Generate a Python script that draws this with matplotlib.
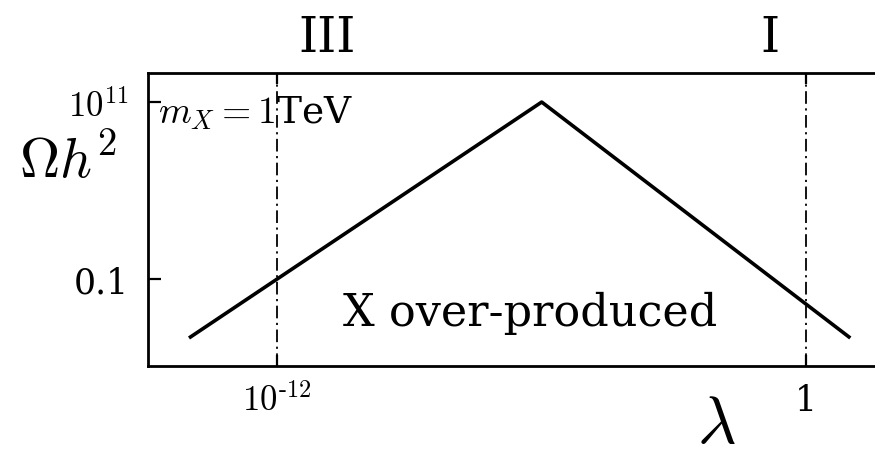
import numpy as np
import matplotlib
matplotlib.use("Agg")
import matplotlib.pyplot as plt

plt.rcParams['font.family'] = ['DejaVu Serif']
plt.rcParams['mathtext.fontset'] = 'cm'

# relic abundance vs coupling, broken power law (log-log)
lam = [1e-14, 1e-6, 1e1]
omega_h2 = [1e-5, 1e11, 1e-5]

# region boundaries
lam_bounds = [1e-12, 1.0]
region_names = ["III", "I"]

xticks = [1e-12, 1.0]
xticklabels = [r"$10^{\text{-}12}$", "1"]
yticks = [0.1, 1e11]
yticklabels = ["0.1", r"$10^{11}$"]

fig = plt.figure(figsize=(8.75, 4.6), dpi=100)
ax = fig.add_axes([148/875, 93/460, 1 - 148/875, 293/460])

ax.plot(lam, omega_h2, color="black", lw=2.6, solid_capstyle="butt")
for xb in lam_bounds:
    ax.axvline(xb, color="black", lw=1.3, linestyle=(0, (7, 2.5, 1.2, 2.5)))

ax.set_xscale("log")
ax.set_yscale("log")
ax.set_xlim(10**-14.93, 10**1.56)
ax.set_ylim(10**-6.9, 10**12.97)

ax.set_xticks(xticks)
ax.set_xticklabels(xticklabels)
ax.set_yticks(yticks)
ax.set_yticklabels(yticklabels)
ax.minorticks_off()
ax.tick_params(axis="x", direction="in", length=8, width=1.6, top=True,
               labelsize=25, pad=12)
ax.tick_params(axis="y", direction="in", length=9, width=1.6, labelsize=25, pad=14)

ax.spines["right"].set_visible(False)
for s in ["left", "top", "bottom"]:
    ax.spines[s].set_linewidth(2.0)

# region labels above the frame
fig.text(327/875, 1 - 38/460, region_names[0], ha="center", va="center", fontsize=35)
fig.text(770/875, 1 - 38/460, region_names[1], ha="center", va="center", fontsize=35)

ax.text(530/875, 1 - 313/460, "X over-produced", transform=fig.transFigure,
        ha="center", va="center", fontsize=32)
ax.text(158/875, 1 - 113/460, r"$m_X = 1$TeV", transform=fig.transFigure,
        ha="left", va="center", fontsize=27)

fig.text(68/875, 1 - 163/460, r"$\Omega h^2$", ha="center", va="center", fontsize=40)
fig.text(716/875, 1 - 424/460, r"$\lambda$", ha="center", va="center", fontsize=48)

fig.savefig("out.png", dpi=100)
